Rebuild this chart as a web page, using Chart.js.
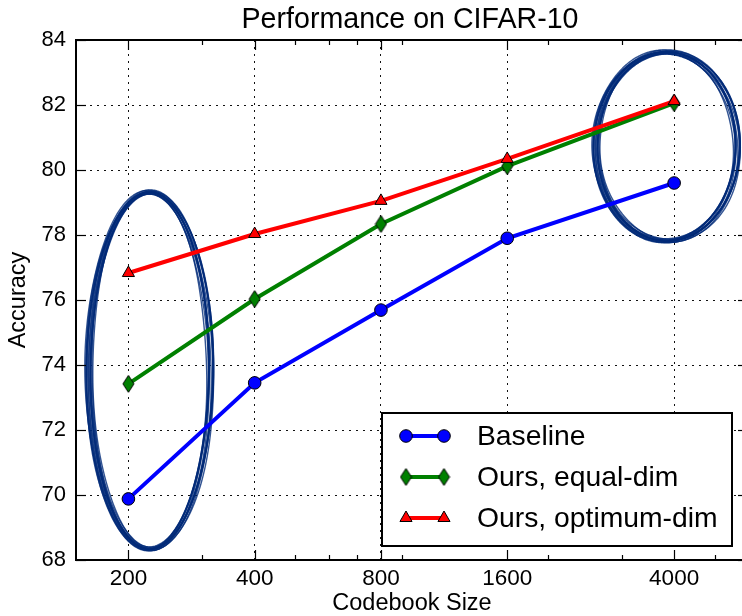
<!DOCTYPE html>
<html><head><meta charset="utf-8">
<script src="https://cdn.jsdelivr.net/npm/chart.js@4.4.1/dist/chart.umd.min.js"></script>
<style>html,body{margin:0;padding:0;background:#fff;overflow:hidden;width:742px;height:616px}canvas{display:block}</style>
</head><body>
<canvas id="c" width="760" height="616"></canvas>
<script>
// ---- data ----
const codebookSizes = [200, 400, 800, 1600, 4000];
const baseline   = [69.88, 73.45, 75.69, 77.90, 79.60];
const equalDim   = [73.42, 76.03, 78.34, 80.12, 82.06];
const optimumDim = [76.83, 78.03, 79.05, 80.34, 82.12];
const seriesNames = ['Baseline', 'Ours, equal-dim', 'Ours, optimum-dim'];
const xTickValues = [200, 400, 800, 1600, 4000];
const xMinorTicks = [300, 500, 600, 700, 900, 2000, 3000, 5000];
const yTickValues = [68, 70, 72, 74, 76, 78, 80, 82, 84];
// hand-drawn highlight ellipses (data-space bounds)
const highlightX = [[157, 322], [2540, 5800]];
const highlightY = [[68.2, 79.45], [77.68, 83.76]];

const FONT = '"Liberation Sans", Arial, Helvetica, sans-serif';
Chart.defaults.font.family = FONT;
Chart.defaults.color = '#000';

// thin diamond marker
function makeDiamond(fill) {
  const c = document.createElement('canvas');
  c.width = 13; c.height = 19;
  const g = c.getContext('2d');
  g.beginPath();
  g.moveTo(6.5, 1); g.lineTo(12, 9.5); g.lineTo(6.5, 18); g.lineTo(1, 9.5); g.closePath();
  g.fillStyle = fill; g.fill();
  g.lineWidth = 1; g.strokeStyle = '#000'; g.stroke();
  return c;
}
const diamond = makeDiamond('#008000');

const toPts = arr => codebookSizes.map((x, i) => ({x, y: arr[i]}));

const datasets = [
  {label: seriesNames[0], data: toPts(baseline), borderColor: '#0000ff', backgroundColor: '#0000ff',
   pointStyle: 'circle', pointRadius: 6.3, order: 2},
  {label: seriesNames[1], data: toPts(equalDim), borderColor: '#008000', backgroundColor: '#008000',
   pointStyle: diamond, pointRadius: 7, order: 1},
  {label: seriesNames[2], data: toPts(optimumDim), borderColor: '#ff0000', backgroundColor: '#ff0000',
   pointStyle: 'triangle', pointRadius: 7, order: 0}
].map(d => Object.assign({borderWidth: 4, pointBorderColor: '#000', pointBorderWidth: 1,
   pointBackgroundColor: d.backgroundColor, tension: 0, fill: false, clip: false}, d));

const highlightPlugin = {
  id: 'highlights',
  beforeDatasetsDraw(chart) {
    const {ctx, scales: {x, y}} = chart;
    ctx.save();
    highlightX.forEach((xr, i) => {
      const x0 = x.getPixelForValue(xr[0]), x1 = x.getPixelForValue(xr[1]);
      const y0 = y.getPixelForValue(highlightY[i][1]), y1 = y.getPixelForValue(highlightY[i][0]);
      const cx = (x0 + x1) / 2, cy = (y0 + y1) / 2;
      const rx = (x1 - x0) / 2 - 4.5, ry = (y1 - y0) / 2 - 4.5;
      const offs = [-4, -3.3, -2.7, -2, -1.4, -0.8, -0.2, 0.4, 1, 1.6, 2.2, 2.9, 3.5, 4.1];
      offs.forEach((d, k) => {
        ctx.beginPath();
        const ph = k * 0.9;
        for (let s = 0; s <= 360; s++) {
          const t = s * Math.PI / 180;
          const w = 0.4 + 0.6 * Math.abs(Math.cos(t));
          const wob = 0.8 * Math.sin(2 * t + ph) + 0.5 * Math.sin(5 * t + 2 * ph);
          const px = cx + (rx + d * w + wob) * Math.cos(t);
          const py = cy + (ry + d * w * 0.8 + wob) * Math.sin(t);
          if (s === 0) ctx.moveTo(px, py); else ctx.lineTo(px, py);
        }
        ctx.lineWidth = 1.4;
        ctx.strokeStyle = 'rgba(0,42,120,0.8)';
        ctx.stroke();
      });
    });
    ctx.restore();
  }
};

const framePlugin = {
  id: 'frame',
  afterDatasetsDraw(chart) {
    const {ctx, chartArea: a, scales: {x, y}} = chart;
    ctx.save();
    ctx.strokeStyle = '#000';
    ctx.lineWidth = 1.2;
    const seg = (x1, y1, x2, y2) => { ctx.beginPath(); ctx.moveTo(x1, y1); ctx.lineTo(x2, y2); ctx.stroke(); };
    xTickValues.forEach(v => {
      const px = Math.round(x.getPixelForValue(v)) + 0.5;
      seg(px, a.bottom, px, a.bottom - 10); seg(px, a.top, px, a.top + 10);
    });
    xMinorTicks.forEach(v => {
      const px = Math.round(x.getPixelForValue(v)) + 0.5;
      seg(px, a.bottom, px, a.bottom - 5); seg(px, a.top, px, a.top + 5);
    });
    yTickValues.forEach(v => {
      const py = Math.round(y.getPixelForValue(v)) + 0.5;
      seg(a.left, py, a.left + 10, py); seg(a.right, py, a.right - 10, py);
    });
    ctx.lineWidth = 2;
    ctx.strokeRect(a.left, a.top, a.right - a.left, a.bottom - a.top);
    ctx.restore();
  }
};

const legendTitlePlugin = {
  id: 'legendTitle',
  afterDraw(chart) {
    const {ctx, chartArea: a} = chart;
    ctx.save();
    // title
    ctx.font = '28.6px ' + FONT;
    ctx.fillStyle = '#000';
    ctx.textAlign = 'center';
    ctx.textBaseline = 'middle';
    ctx.fillText('Performance on CIFAR-10', (a.left + a.right) / 2 - 2, 20);
    // legend
    const bw = 350, bh = 133;
    const bx = a.right - 16 - bw, by = a.bottom - 14 - bh;
    ctx.fillStyle = '#fff';
    ctx.fillRect(bx, by, bw, bh);
    ctx.lineWidth = 2;
    ctx.strokeStyle = '#000';
    ctx.strokeRect(bx, by, bw, bh);
    chart.data.datasets.forEach((ds, i) => {
      const ry = by + 23 + i * 41;
      const lx0 = bx + 24, lx1 = bx + 62;
      ctx.beginPath();
      ctx.moveTo(lx0, ry); ctx.lineTo(lx1, ry);
      ctx.lineWidth = ds.borderWidth; ctx.strokeStyle = ds.borderColor; ctx.stroke();
      [lx0, lx1].forEach(px => {
        ctx.fillStyle = ds.pointBackgroundColor;
        ctx.strokeStyle = ds.pointBorderColor;
        ctx.lineWidth = ds.pointBorderWidth;
        Chart.helpers.drawPoint(ctx, {pointStyle: ds.pointStyle, radius: ds.pointRadius,
          rotation: 0, borderWidth: ds.pointBorderWidth}, px, ry);
      });
      ctx.fillStyle = '#000';
      ctx.font = '28.3px ' + FONT;
      ctx.textAlign = 'left';
      ctx.textBaseline = 'middle';
      ctx.fillText(ds.label, bx + 95, ry + 1);
    });
    ctx.restore();
  }
};

new Chart(document.getElementById('c'), {
  type: 'line',
  data: {datasets},
  plugins: [highlightPlugin, framePlugin, legendTitlePlugin],
  options: {
    responsive: false,
    animation: false,
    layout: {padding: {left: 0, right: 12, top: 40, bottom: 0}},
    plugins: {legend: {display: false}, title: {display: false}, tooltip: {enabled: false}},
    scales: {
      x: {
        type: 'logarithmic', min: 150, max: 6000,
        afterBuildTicks: s => { s.ticks = xTickValues.map(v => ({value: v, major: true})); },
        afterFit: s => { s.height = 56; },
        ticks: {autoSkip: false, maxRotation: 0, padding: 5, font: {size: 22.5},
                callback: v => String(v)},
        grid: {color: '#111', lineWidth: 1, drawTicks: false, borderDash: [2, 5]},
        border: {display: false, dash: [2, 5]},
        title: {display: true, text: 'Codebook Size', font: {size: 23.5}, padding: {top: 0, bottom: -2}}
      },
      y: {
        min: 68, max: 84,
        afterBuildTicks: s => { s.ticks = yTickValues.map(v => ({value: v})); },
        afterFit: s => { s.width = 76; },
        ticks: {padding: 10, font: {size: 22}, callback: v => String(v)},
        grid: {color: '#111', lineWidth: 1, drawTicks: false, borderDash: [2, 5]},
        border: {display: false, dash: [2, 5]},
        title: {display: true, text: 'Accuracy', font: {size: 23.5}, padding: {top: 4, bottom: 0}}
      }
    }
  }
});
</script>
</body></html>
